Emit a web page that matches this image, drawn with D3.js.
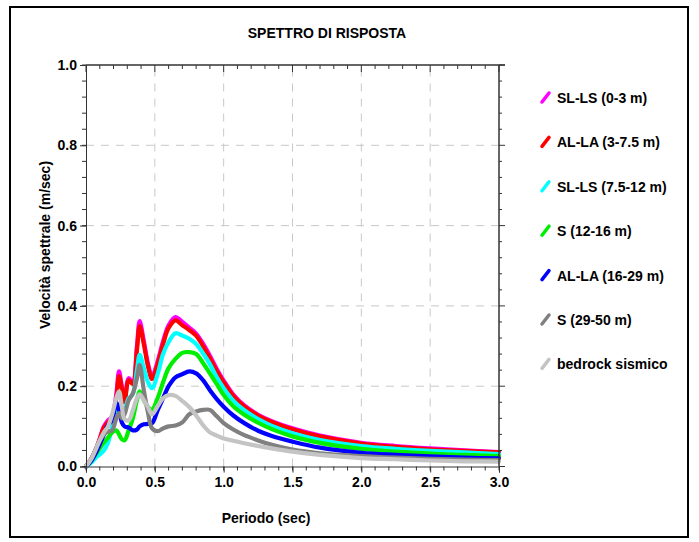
<!DOCTYPE html>
<html>
<head>
<meta charset="utf-8">
<script src="https://cdn.jsdelivr.net/npm/d3@7"></script>
<style>
  body { margin: 0; background: #fff; }
  svg text { font-family: "Liberation Sans", Arial, sans-serif; font-weight: bold; fill: #000; }
</style>
</head>
<body>
<div class="chart"></div>
<script>
// periods (sec), shared by every series
var periods = [0, 0.04, 0.08, 0.1, 0.13, 0.16, 0.19, 0.22, 0.24, 0.26, 0.28, 0.31, 0.34, 0.37, 0.39,
  0.42, 0.45, 0.48, 0.52, 0.56, 0.6, 0.65, 0.7, 0.75, 0.8, 0.85, 0.9, 0.95, 1.0,
  1.07, 1.15, 1.25, 1.35, 1.5, 1.7, 2.0, 2.25, 2.5, 2.75, 3.0];

var sl_ls_0_3 = [0, 0.02, 0.05, 0.07, 0.1, 0.115, 0.125, 0.18, 0.237, 0.2, 0.165, 0.22, 0.21, 0.3, 0.362,
  0.312, 0.257, 0.224, 0.262, 0.312, 0.352, 0.372, 0.36, 0.346, 0.331, 0.306, 0.276, 0.243, 0.214,
  0.179, 0.152, 0.129, 0.113, 0.095, 0.077, 0.059, 0.051, 0.045, 0.04, 0.036];
var al_la_3_75 = [0, 0.02, 0.05, 0.068, 0.097, 0.11, 0.12, 0.17, 0.225, 0.195, 0.16, 0.215, 0.205, 0.29, 0.35,
  0.305, 0.25, 0.218, 0.255, 0.305, 0.345, 0.364, 0.352, 0.34, 0.326, 0.3, 0.27, 0.238, 0.21,
  0.176, 0.15, 0.127, 0.111, 0.093, 0.075, 0.057, 0.049, 0.043, 0.039, 0.035];
var sl_ls_75_12 = [0, 0.01, 0.025, 0.03, 0.04, 0.06, 0.1, 0.14, 0.15, 0.13, 0.14, 0.17, 0.18, 0.24, 0.278,
  0.245, 0.21, 0.195, 0.23, 0.28, 0.31, 0.332, 0.326, 0.318, 0.305, 0.282, 0.255, 0.222, 0.195,
  0.164, 0.14, 0.118, 0.101, 0.083, 0.066, 0.051, 0.044, 0.039, 0.035, 0.031];
var s_12_16 = [0, 0.015, 0.035, 0.045, 0.06, 0.072, 0.085, 0.09, 0.08, 0.068, 0.065, 0.09, 0.12, 0.165, 0.187,
  0.165, 0.148, 0.142, 0.17, 0.21, 0.245, 0.268, 0.283, 0.285, 0.28, 0.258, 0.232, 0.205, 0.178,
  0.15, 0.129, 0.109, 0.093, 0.075, 0.059, 0.044, 0.037, 0.032, 0.029, 0.026];
var al_la_16_29 = [0, 0.015, 0.04, 0.055, 0.08, 0.103, 0.115, 0.16, 0.14, 0.11, 0.1, 0.097, 0.09, 0.092, 0.1,
  0.105, 0.106, 0.108, 0.14, 0.17, 0.2, 0.222, 0.23, 0.237, 0.232, 0.215, 0.19, 0.168, 0.149,
  0.127, 0.108, 0.089, 0.076, 0.062, 0.047, 0.034, 0.029, 0.025, 0.022, 0.02];
var s_29_50 = [0, 0.02, 0.05, 0.065, 0.08, 0.087, 0.09, 0.12, 0.133, 0.12, 0.13, 0.165, 0.182, 0.22, 0.253,
  0.19, 0.135, 0.095, 0.088, 0.095, 0.1, 0.102, 0.11, 0.13, 0.137, 0.141, 0.141, 0.125, 0.108,
  0.092, 0.078, 0.065, 0.054, 0.042, 0.033, 0.026, 0.022, 0.019, 0.017, 0.016];
var bedrock = [0, 0.02, 0.05, 0.065, 0.085, 0.1, 0.13, 0.17, 0.187, 0.15, 0.118, 0.115, 0.14, 0.17, 0.18,
  0.165, 0.148, 0.13, 0.15, 0.17, 0.178, 0.176, 0.163, 0.148, 0.127, 0.103, 0.085, 0.077, 0.07,
  0.064, 0.058, 0.051, 0.045, 0.037, 0.029, 0.021, 0.018, 0.015, 0.013, 0.012];

var seriesNames = ["SL-LS (0-3 m)", "AL-LA (3-7.5 m)", "SL-LS (7.5-12 m)", "S (12-16 m)",
  "AL-LA (16-29 m)", "S (29-50 m)", "bedrock sismico"];
var seriesValues = [sl_ls_0_3, al_la_3_75, sl_ls_75_12, s_12_16, al_la_16_29, s_29_50, bedrock];
var seriesColors = ["#ff00ff", "#ff0000", "#00ffff", "#00ee00", "#0000ff", "#808080", "#c4c4c4"];

var xTicks = [0, 0.5, 1.0, 1.5, 2.0, 2.5, 3.0];
var yTicks = [0, 0.2, 0.4, 0.6, 0.8, 1.0];

var W = 699, H = 542;
var svg = d3.select("div.chart").append("svg")
  .attr("width", W)
  .attr("height", H);

// outer frame
svg.append("rect")
  .attr("x", 10).attr("y", 7)
  .attr("width", 678).attr("height", 530)
  .attr("fill", "none")
  .attr("stroke", "#000")
  .attr("stroke-width", 2);

var x = d3.scaleLinear().domain([0, 3]).range([86, 499]);
var y = d3.scaleLinear().domain([0, 1]).range([466.5, 65]);

// dashed grid
svg.append("g").selectAll("line")
  .data(xTicks.slice(1, -1))
  .join("line")
  .attr("x1", d => x(d)).attr("x2", d => x(d))
  .attr("y1", y(0)).attr("y2", y(1))
  .attr("stroke", "#c8c8c8")
  .attr("stroke-dasharray", "8,7");
svg.append("g").selectAll("line")
  .data(yTicks.slice(1, -1))
  .join("line")
  .attr("x1", x(0)).attr("x2", x(3))
  .attr("y1", d => y(d)).attr("y2", d => y(d))
  .attr("stroke", "#c8c8c8")
  .attr("stroke-dasharray", "8,7");

// curves
var line = d3.line()
  .x(d => x(d[0]))
  .y(d => y(d[1]))
  .curve(d3.curveCatmullRom.alpha(0.5));

svg.append("g").selectAll("path")
  .data(seriesValues)
  .join("path")
  .attr("d", vals => line(periods.map((p, i) => [p, vals[i]])))
  .attr("fill", "none")
  .attr("stroke", (d, i) => seriesColors[i])
  .attr("stroke-width", 4.2)
  .attr("stroke-linejoin", "round")
  .attr("stroke-linecap", "round");

// axes
var axisColor = "#333";
var xMinor = d3.range(0, 3.0001, 0.1);
var yMinor = d3.range(0, 1.0001, 0.04);

var bottom = d3.axisBottom(x).tickValues(xTicks).tickFormat(d3.format(".1f")).tickSize(6).tickPadding(5);
var gb = svg.append("g").attr("transform", "translate(0," + y(0) + ")").call(bottom);
var left = d3.axisLeft(y).tickValues(yTicks).tickFormat(d3.format(".1f")).tickSize(6).tickPadding(3);
var gl = svg.append("g").attr("transform", "translate(" + x(0) + ",0)").call(left);
[gb, gl].forEach(function (g) {
  g.selectAll("text").attr("font-size", "14px").attr("font-family", null);
  g.selectAll("line, path").attr("stroke", axisColor);
});

// minor ticks
svg.append("g").selectAll("line").data(xMinor).join("line")
  .attr("x1", d => x(d)).attr("x2", d => x(d))
  .attr("y1", y(0)).attr("y2", y(0) + 4)
  .attr("stroke", axisColor);
svg.append("g").selectAll("line").data(xMinor).join("line")
  .attr("x1", d => x(d)).attr("x2", d => x(d))
  .attr("y1", y(1)).attr("y2", d => y(1) + (Math.abs(d * 2 - Math.round(d * 2)) < 1e-6 ? 7 : 4))
  .attr("stroke", axisColor);
svg.append("g").selectAll("line").data(yMinor).join("line")
  .attr("x1", x(0) - 4).attr("x2", x(0))
  .attr("y1", d => y(d)).attr("y2", d => y(d))
  .attr("stroke", axisColor);
svg.append("g").selectAll("line").data(yMinor).join("line")
  .attr("x1", x(3)).attr("x2", d => x(3) + (Math.abs(d * 5 - Math.round(d * 5)) < 1e-6 ? 6 : 3))
  .attr("y1", d => y(d)).attr("y2", d => y(d))
  .attr("stroke", axisColor);

// top and right border lines
svg.append("line")
  .attr("x1", x(0)).attr("x2", x(3) + 6)
  .attr("y1", y(1)).attr("y2", y(1))
  .attr("stroke", axisColor).attr("stroke-width", 1.5);
svg.append("line")
  .attr("x1", x(3)).attr("x2", x(3))
  .attr("y1", y(1)).attr("y2", y(0))
  .attr("stroke", axisColor).attr("stroke-width", 1.5);

// title and axis labels
svg.append("text")
  .text("SPETTRO DI RISPOSTA")
  .attr("x", 327).attr("y", 38)
  .attr("text-anchor", "middle")
  .attr("font-size", "14px");
svg.append("text")
  .text("Periodo (sec)")
  .attr("x", 266).attr("y", 523)
  .attr("text-anchor", "middle")
  .attr("font-size", "14px");
svg.append("text")
  .text("Velocità spettrale (m/sec)")
  .attr("transform", "translate(50,245) rotate(-90)")
  .attr("text-anchor", "middle")
  .attr("font-size", "14px");

// legend
var legend = svg.append("g").selectAll("g")
  .data(seriesNames)
  .join("g")
  .attr("transform", (d, i) => "translate(0," + (98 + i * 44.4) + ")");
legend.append("line")
  .attr("x1", 542).attr("y1", 4)
  .attr("x2", 549).attr("y2", -5)
  .attr("stroke", (d, i) => seriesColors[i])
  .attr("stroke-width", 3.5)
  .attr("stroke-linecap", "round");
legend.append("text")
  .text(d => d)
  .attr("x", 557).attr("y", 5)
  .attr("font-size", "14px");
</script>
</body>
</html>
